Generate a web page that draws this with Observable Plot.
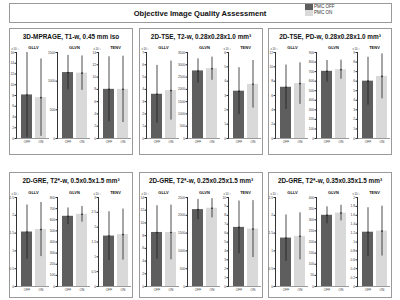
<!DOCTYPE html>
<html><head><meta charset="utf-8">
<script src="https://cdn.jsdelivr.net/npm/d3@7"></script>
<script src="https://cdn.jsdelivr.net/npm/@observablehq/plot@0.6"></script>
<style>
body{margin:0;background:#fff;}
#root{position:relative;width:400px;height:300px;font-family:"Liberation Sans",Arial,sans-serif;color:#111;overflow:hidden;}
.box{position:absolute;border:1px solid #9a9a9a;box-sizing:border-box;}
.t{position:absolute;white-space:nowrap;transform:translate(-50%,-50%);}
.sub{position:absolute;}
</style></head><body><div id="root"></div>
<script>
const mainTitle = "Objective Image Quality Assessment";
const legendLabels = ["PMC OFF", "PMC ON"];
const panelTitles = [
  "3D-MPRAGE, T1-w, 0.45 mm iso",
  "2D-TSE, T2-w, 0.28x0.28x1.0 mm³",
  "2D-TSE, PD-w, 0.28x0.28x1.0 mm³",
  "2D-GRE, T2*-w, 0.5x0.5x1.5 mm³",
  "2D-GRE, T2*-w, 0.25x0.25x1.5 mm³",
  "2D-GRE, T2*-w, 0.35x0.35x1.5 mm³"
];
const metrics = ["GLLV", "GLVN", "TENV"];
const groups = ["OFF", "ON"];
const exponentLabels = ["x 10⁻³", "", "x 10⁻³"];
const meanOff = [[8.1,1150,8.0],[3.6,2750,3.3],[7.15,703,6.0],[1.53,631,1.70],[8.5,2160,6.64],[1.36,320,1.22]];
const meanOn  = [[7.6,1140,8.0],[3.9,2840,3.78],[7.66,720,6.5],[1.60,649,1.75],[8.5,2198,6.45],[1.41,330,1.245]];
const sdOff   = [[7.9,300,5.3],[2.35,490,1.64],[3.1,113,2.5],[0.76,75,0.82],[4.2,285,2.96],[0.65,38,0.55]];
const sdOn    = [[7.2,300,5.4],[2.4,470,1.66],[2.9,100,2.35],[0.76,70,0.86],[4.3,270,3.2],[0.66,35,0.56]];
const yMax    = [[16,1500,14],[7,3500,6],[12,900,9],[2.5,800,3],[14,2500,10],[2.5,400,2]];
const yStep   = [[2,500,2],[1,500,1],[2,100,1],[0.5,100,0.5],[2,500,1],[0.5,50,0.2]];

const colOff = "#5e5e5e", colOn = "#d9d9d9";
const root = document.getElementById("root");
function el(cls, css, html){const d=document.createElement("div");d.className=cls;Object.assign(d.style,css);if(html!=null)d.innerHTML=html;root.appendChild(d);return d;}

// header
el("box",{left:"9px",top:"3px",width:"383px",height:"20px"});
el("t",{left:"200px",top:"12.5px",fontSize:"7.6px",fontWeight:"bold"},mainTitle);
[colOff,colOn].forEach((c,i)=>{
  el("",{position:"absolute",left:"305px",top:(4+i*6)+"px",width:"8px",height:"5.5px",background:c});
  el("",{position:"absolute",left:"314px",top:(3.6+i*6)+"px",fontSize:"4.6px",lineHeight:"6px",color:"#333"},legendLabels[i]);
});

const panelL = [9,139,268];
const rowTop = [28,172];
const rowH = [127,126];
const plotTop = [52,197];
const plotH = [86,89];
const ml = 8, mt = 3, mb = 7;

for(let p=0;p<6;p++){
  const r = Math.floor(p/3), c = p%3;
  const L = panelL[c], T = rowTop[r];
  el("box",{left:L+"px",top:T+"px",width:"124px",height:rowH[r]+"px"});
  el("t",{left:(L+62)+"px",top:(T+7.5)+"px",fontSize:"6.4px",fontWeight:"bold"},panelTitles[p]);
  for(let m=0;m<3;m++){
    const ax = L + 7 + 41*m;
    const data = groups.map((g,i)=>({g, v:(i?meanOn:meanOff)[p][m], s:(i?sdOn:sdOff)[p][m]}));
    const ticks = d3.range(0, yMax[p][m] + yStep[p][m]/2, yStep[p][m]);
    const svg = Plot.plot({
      width: ml+33, height: mt+plotH[r]+mb,
      marginLeft: ml, marginRight: 0, marginTop: mt, marginBottom: mb,
      style:{fontSize:"3.2px",fontFamily:"Liberation Sans, Arial, sans-serif",background:"transparent",overflow:"visible",color:"#333"},
      x:{domain:groups, range:[ml+5, ml+30], paddingInner:3/14, paddingOuter:0, tickSize:0, tickPadding:2, label:null},
      y:{domain:[0,yMax[p][m]], ticks, tickSize:1.5, tickPadding:1, label:null, line:true, tickFormat:d=>d3.format("~g")(+d.toFixed(6))},
      marks:[
        Plot.barY(data,{x:"g", y:"v", fill:d=>d.g==="OFF"?colOff:colOn}),
        Plot.ruleX(data,{x:"g", y1:d=>Math.max(0,d.v-d.s), y2:d=>d.v+d.s, stroke:"#1e1e1e", strokeWidth:0.8}),
        Plot.dot(data,{x:"g", y:"v", r:0.8, fill:"#1e1e1e"}),
        Plot.ruleY([0],{stroke:"#555",strokeWidth:0.6})
      ]
    });
    svg.style.position="absolute";
    svg.style.left=(ax-ml)+"px";
    svg.style.top=(plotTop[r]-mt)+"px";
    root.appendChild(svg);
    el("t",{left:(ax+17.5)+"px",top:(plotTop[r]-5.5)+"px",fontSize:"4px",fontWeight:"bold"},metrics[m]);
    if(exponentLabels[m]) el("t",{left:(ax-1)+"px",top:(plotTop[r]-3)+"px",fontSize:"2.8px",color:"#333"},exponentLabels[m]);
  }
}
</script></body></html>
